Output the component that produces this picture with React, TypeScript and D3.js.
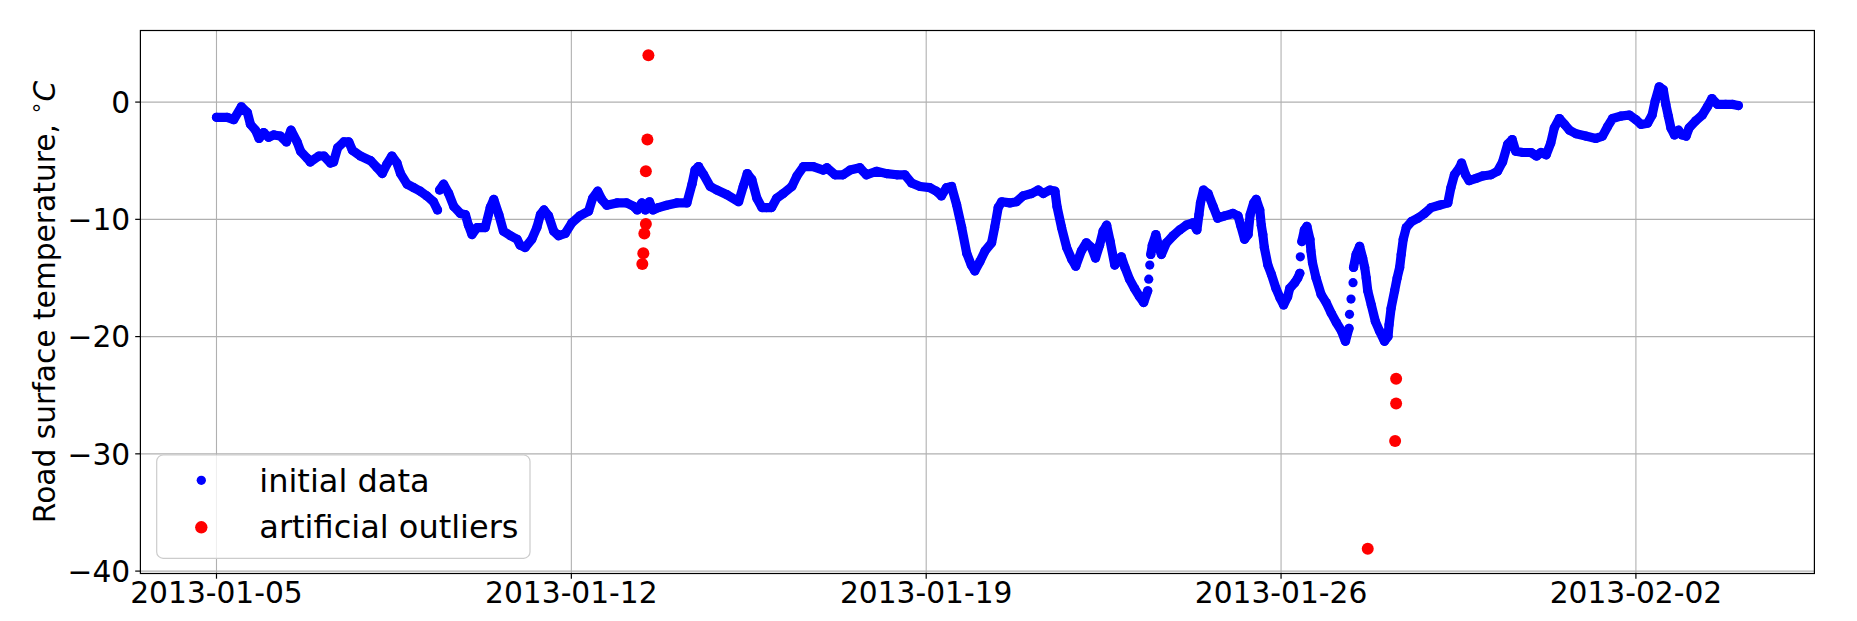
import React from "react";
import * as d3 from "d3";

// [days since 2013-01-05 00:00 UTC, road surface temperature °C]
type Reading = [number, number];

const START_DATE = "2013-01-05";

// initial data, continuous stretches
const initialRunA: Reading[] = [
  [0.00, -1.3], [0.21, -1.3], [0.34, -1.5], [0.49, -0.4], [0.61, -0.9], [0.67, -1.9], [0.77, -2.4],
  [0.84, -3.1], [0.93, -2.6], [1.03, -3.0], [1.13, -2.8], [1.26, -2.9], [1.38, -3.4], [1.47, -2.4],
  [1.59, -3.4], [1.66, -4.2], [1.79, -4.8], [1.85, -5.1], [2.02, -4.6], [2.12, -4.6], [2.25, -5.2],
  [2.31, -5.1], [2.39, -3.9], [2.51, -3.4], [2.61, -3.4], [2.68, -4.1], [2.84, -4.6], [3.04, -5.0],
  [3.17, -5.6], [3.27, -6.1], [3.36, -5.3], [3.46, -4.6], [3.56, -5.2], [3.63, -6.1], [3.76, -7.0],
  [3.89, -7.3], [4.02, -7.6], [4.15, -8.0], [4.28, -8.5], [4.36, -9.2],
];

const initialRunB: Reading[] = [
  [4.40, -7.5], [4.48, -7.0], [4.58, -7.8], [4.68, -8.9], [4.81, -9.5], [4.91, -9.6], [4.97, -10.5],
  [5.04, -11.3], [5.14, -10.7], [5.30, -10.7], [5.40, -9.0], [5.47, -8.3], [5.57, -9.6], [5.66, -11.0],
  [5.80, -11.4], [5.93, -11.7], [5.99, -12.2], [6.09, -12.4], [6.22, -11.7], [6.32, -10.7], [6.39, -9.6],
  [6.46, -9.2], [6.55, -9.7], [6.65, -11.0], [6.75, -11.4], [6.88, -11.2], [7.01, -10.3], [7.17, -9.7],
  [7.34, -9.3], [7.42, -8.2], [7.52, -7.6], [7.60, -8.3], [7.70, -8.8], [7.90, -8.6], [8.09, -8.6],
  [8.23, -8.9], [8.30, -9.2], [8.39, -8.6], [8.46, -9.2], [8.54, -8.5], [8.61, -9.2], [8.72, -9.0],
  [8.88, -8.8], [9.08, -8.6], [9.28, -8.6], [9.38, -7.0], [9.44, -5.8], [9.51, -5.5], [9.61, -6.2],
  [9.74, -7.2], [9.87, -7.5], [10.07, -7.9], [10.30, -8.5], [10.39, -7.2], [10.47, -6.1], [10.56, -6.6],
  [10.66, -8.2], [10.76, -9.0], [10.85, -9.0], [10.95, -9.0], [11.05, -8.2], [11.18, -7.8], [11.35, -7.2],
  [11.45, -6.3], [11.58, -5.5], [11.77, -5.5], [11.97, -5.8], [12.04, -5.6], [12.20, -6.2], [12.36, -6.2],
  [12.50, -5.8], [12.69, -5.6], [12.82, -6.2], [13.02, -5.9], [13.22, -6.1], [13.42, -6.2], [13.58, -6.2],
  [13.71, -6.9], [13.88, -7.2], [14.07, -7.3], [14.20, -7.6], [14.30, -8.0], [14.40, -7.3], [14.50, -7.2],
  [14.60, -8.75], [14.70, -10.7], [14.80, -12.9], [14.89, -13.9], [14.96, -14.4], [15.06, -13.6],
  [15.16, -12.7], [15.29, -12.0], [15.35, -10.7], [15.42, -9.0], [15.49, -8.5], [15.65, -8.6],
  [15.78, -8.5], [15.91, -8.0], [16.08, -7.8], [16.21, -7.5], [16.31, -7.8], [16.44, -7.5], [16.54, -7.6],
  [16.58, -8.9], [16.67, -10.7], [16.77, -12.4], [16.87, -13.4], [16.95, -14.0], [17.06, -12.7],
  [17.16, -12.0], [17.26, -12.4], [17.34, -13.3], [17.42, -12.2], [17.49, -11.0], [17.56, -10.5],
  [17.63, -11.9], [17.72, -13.9], [17.78, -13.6], [17.85, -13.2], [17.92, -14.1], [18.01, -15.1],
  [18.11, -15.9], [18.21, -16.6], [18.29, -17.1], [18.37, -16.1],
];

const initialRunC: Reading[] = [
  [18.43, -13.0], [18.46, -12.2], [18.53, -11.3], [18.59, -12.4], [18.64, -13.0], [18.74, -12.0],
  [18.87, -11.4], [19.00, -10.9], [19.13, -10.5], [19.26, -10.3], [19.34, -10.9], [19.38, -9.6],
  [19.41, -8.6], [19.47, -7.5], [19.56, -7.8], [19.66, -8.9], [19.75, -9.9], [19.89, -9.7], [20.05, -9.5],
  [20.15, -9.7], [20.21, -10.6], [20.28, -11.7], [20.35, -11.3], [20.39, -9.6], [20.46, -8.6],
  [20.51, -8.3], [20.58, -9.2], [20.61, -10.5], [20.64, -11.3], [20.67, -12.4], [20.74, -13.9],
  [20.81, -14.7], [20.90, -15.9], [20.98, -16.7], [21.05, -17.3], [21.13, -16.6], [21.17, -15.9],
  [21.27, -15.4], [21.33, -15.0], [21.37, -14.6],
];

const initialRunD: Reading[] = [
  [21.41, -11.9], [21.46, -10.9], [21.51, -10.6], [21.57, -11.7], [21.59, -12.7], [21.62, -13.7],
  [21.69, -15.0], [21.79, -16.4], [21.89, -17.1], [21.99, -18.0], [22.09, -18.8], [22.19, -19.5],
  [22.27, -20.4], [22.34, -19.3],
];

const initialRunE: Reading[] = [
  [22.43, -14.1], [22.48, -13.0], [22.55, -12.3], [22.61, -13.3], [22.65, -14.1], [22.68, -15.0],
  [22.71, -16.1], [22.78, -17.3], [22.86, -18.7], [22.94, -19.5], [23.04, -20.4], [23.11, -20.0],
  [23.13, -19.0], [23.17, -17.6], [23.24, -16.1], [23.29, -15.0], [23.34, -14.1], [23.37, -13.0],
  [23.41, -11.7], [23.47, -10.7], [23.57, -10.2], [23.70, -9.9], [23.83, -9.5], [23.96, -9.0],
  [24.12, -8.8], [24.29, -8.6], [24.35, -7.3], [24.42, -6.2], [24.52, -5.6], [24.56, -5.2], [24.64, -6.2],
  [24.71, -6.7], [24.85, -6.5], [24.98, -6.3], [25.14, -6.2], [25.27, -5.9], [25.37, -5.1], [25.47, -3.6],
  [25.56, -3.2], [25.63, -4.2], [25.77, -4.3], [25.93, -4.3], [26.04, -4.6], [26.13, -4.3], [26.23, -4.5],
  [26.32, -3.5], [26.39, -2.2], [26.49, -1.4], [26.59, -1.9], [26.69, -2.4], [26.82, -2.7], [27.01, -2.9],
  [27.21, -3.1], [27.34, -2.9], [27.44, -2.1], [27.54, -1.4], [27.70, -1.2], [27.87, -1.1], [28.00, -1.5],
  [28.10, -1.9], [28.23, -1.8], [28.32, -1.1], [28.38, 0.1], [28.46, 1.3], [28.54, 1.05], [28.59, -0.2],
  [28.64, -1.2], [28.69, -2.2], [28.76, -2.8], [28.84, -2.4], [28.91, -2.8], [28.99, -2.9], [29.05, -2.2],
  [29.18, -1.6], [29.31, -1.1], [29.41, -0.4], [29.50, 0.3], [29.61, -0.2], [29.77, -0.2], [29.91, -0.2],
  [30.02, -0.3],
];

// initial data, separated single readings on steep stretches
const initialLoose: Reading[] = [
  [18.39, -15.1], [18.41, -13.9], [21.38, -13.2], [22.35, -18.1], [22.38, -16.8], [22.42, -15.4],
];

// artificial outliers
const outlierDays: number[] = [8.52, 8.50, 8.47, 8.47, 8.44, 8.42, 8.40, 22.71, 23.27, 23.27, 23.25];
const outlierTemps: number[] = [4.0, -3.2, -5.9, -10.4, -11.2, -12.9, -13.8, -38.1, -23.6, -25.7, -28.9];

const xTickLabels: string[] = ["2013-01-05", "2013-01-12", "2013-01-19", "2013-01-26", "2013-02-02"];
const yTickValues: number[] = [0, -10, -20, -30, -40];

const legendLabels: string[] = ["initial data", "artificial outliers"];

const FONT = "'DejaVu Sans', sans-serif";

export default function App() {
  const W = 1857;
  const H = 621;
  const plot = { left: 140.4, right: 1814.4, top: 30.5, bottom: 573.5 };

  const parse = d3.utcParse("%Y-%m-%d");
  const t0 = (parse(START_DATE) as Date).getTime();
  const toDate = (d: number) => new Date(t0 + d * 86400000);

  const runs = [initialRunA, initialRunB, initialRunC, initialRunD, initialRunE];
  const blue: Reading[] = [...runs.flat(), ...initialLoose];
  const red: Reading[] = outlierDays.map((d, i) => [d, outlierTemps[i]] as Reading);
  const all = blue.concat(red);

  const [d0, d1] = d3.extent(all, (r) => r[0]) as [number, number];
  const [v0, v1] = d3.extent(all, (r) => r[1]) as [number, number];
  const dPad = (d1 - d0) * 0.05;
  const vPad = (v1 - v0) * 0.05;

  const x = d3.scaleUtc().domain([toDate(d0 - dPad), toDate(d1 + dPad)]).range([plot.left, plot.right]);
  const y = d3.scaleLinear().domain([v0 - vPad, v1 + vPad]).range([plot.bottom, plot.top]);

  const line = d3
    .line<Reading>()
    .x((r) => x(toDate(r[0])))
    .y((r) => y(r[1]));

  const fmtY = d3.format("d");
  const xTicks = xTickLabels.map((s) => parse(s) as Date);

  const blueR = 4.6;
  const redR = 6.0;
  const tickFs = 29.7;
  const gridColor = "#b0b0b0";

  return (
    <svg
      width={W}
      height={H}
      viewBox={`0 0 ${W} ${H}`}
      style={{ position: "absolute", left: 0, top: 0, background: "#fff" }}
      fontFamily={FONT}
    >
      <rect x={0} y={0} width={W} height={H} fill="#fff" />
      {/* grid */}
      <g stroke={gridColor} strokeWidth={1.1}>
        {xTicks.map((t, i) => (
          <line key={"gx" + i} x1={x(t)} x2={x(t)} y1={plot.top} y2={plot.bottom} />
        ))}
        {yTickValues.map((v, i) => (
          <line key={"gy" + i} x1={plot.left} x2={plot.right} y1={y(v)} y2={y(v)} />
        ))}
      </g>

      {/* initial data */}
      <g>
        {runs.map((run, i) => (
          <path
            key={"run" + i}
            d={line(run) || ""}
            fill="none"
            stroke="#0000ff"
            strokeWidth={blueR * 2}
            strokeLinejoin="round"
            strokeLinecap="round"
          />
        ))}
        {blue.map((r, i) => (
          <circle key={"b" + i} cx={x(toDate(r[0]))} cy={y(r[1])} r={blueR} fill="#0000ff" />
        ))}
      </g>

      {/* artificial outliers */}
      <g>
        {red.map((r, i) => (
          <circle key={"r" + i} cx={x(toDate(r[0]))} cy={y(r[1])} r={redR} fill="#ff0000" />
        ))}
      </g>

      {/* spines */}
      <rect
        x={plot.left}
        y={plot.top}
        width={plot.right - plot.left}
        height={plot.bottom - plot.top}
        fill="none"
        stroke="#000"
        strokeWidth={1.2}
      />

      {/* x ticks */}
      <g>
        {xTicks.map((t, i) => (
          <g key={"xt" + i}>
            <line x1={x(t)} x2={x(t)} y1={plot.bottom} y2={plot.bottom + 5.2} stroke="#000" strokeWidth={1.2} />
            <text x={x(t)} y={603.3} textAnchor="middle" fontSize={tickFs} fill="#000">
              {xTickLabels[i]}
            </text>
          </g>
        ))}
      </g>

      {/* y ticks */}
      <g>
        {yTickValues.map((v, i) => (
          <g key={"yt" + i}>
            <line x1={plot.left - 5.2} x2={plot.left} y1={y(v)} y2={y(v)} stroke="#000" strokeWidth={1.2} />
            <text x={130.2} y={y(v) + tickFs * 0.36} textAnchor="end" fontSize={tickFs} fill="#000">
              {fmtY(v)}
            </text>
          </g>
        ))}
      </g>

      {/* y label */}
      <text
        transform={`translate(55, ${(plot.top + plot.bottom) / 2}) rotate(-90)`}
        textAnchor="middle"
        fontSize={tickFs}
        fill="#000"
      >
        Road surface temperature,{" "}
        <tspan fontSize={tickFs * 0.7} dy={-tickFs * 0.42}>
          ∘
        </tspan>
        <tspan dy={tickFs * 0.42} fontStyle="italic">
          C
        </tspan>
      </text>

      {/* legend */}
      <g>
        <rect x={156.7} y={455} width={373.3} height={103.3} rx={6.4} ry={6.4} fill="#fff" fillOpacity={0.8} stroke="#cccccc" strokeWidth={1.2} />
        <circle cx={201.3} cy={480.3} r={4.65} fill="#0000ff" />
        <circle cx={201.3} cy={527.3} r={6.2} fill="#ff0000" />
        <text x={259.3} y={491.7} fontSize={32} fill="#000">
          {legendLabels[0]}
        </text>
        <text x={259.3} y={538.3} fontSize={32} fill="#000">
          {legendLabels[1]}
        </text>
      </g>
    </svg>
  );
}
